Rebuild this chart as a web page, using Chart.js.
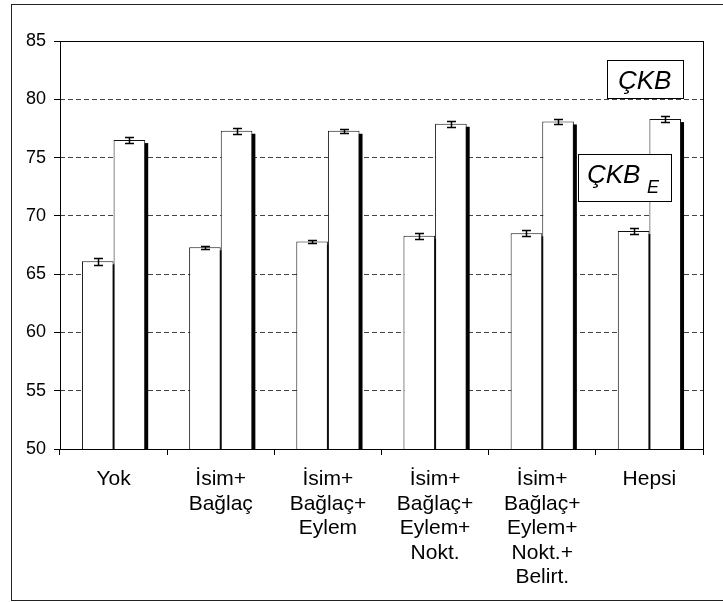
<!DOCTYPE html>
<html>
<head>
<meta charset="utf-8">
<script src="https://cdn.jsdelivr.net/npm/chart.js@4"></script>
<style>
  html, body { margin: 0; padding: 0; background: #fff; }
  #wrap { width: 723px; height: 602px; position: relative; }
</style>
</head>
<body>
<div id="wrap"><canvas id="chart" width="723" height="602"></canvas></div>
<script>
// category labels (multi-line)
var categories = [
  ['Yok'],
  ['İsim+', 'Bağlaç'],
  ['İsim+', 'Bağlaç+', 'Eylem'],
  ['İsim+', 'Bağlaç+', 'Eylem+', 'Nokt.'],
  ['İsim+', 'Bağlaç+', 'Eylem+', 'Nokt.+', 'Belirt.'],
  ['Hepsi']
];
// lower bars (left of each pair)
var ckbE = [66.1, 67.3, 67.8, 68.3, 68.5, 68.7];
var ckbEErr = [0.3, 0.15, 0.15, 0.25, 0.25, 0.25];
// upper bars (right of each pair)
var ckb = [76.5, 77.3, 77.3, 77.9, 78.1, 78.3];
var ckbErr = [0.25, 0.25, 0.15, 0.25, 0.25, 0.25];
var yTicks = [50, 55, 60, 65, 70, 75, 80, 85];

var FONT = 'Liberation Sans, Arial, sans-serif';

// black drop shadow behind every bar (offset right/down)
var shadowPlugin = {
  id: 'shadow',
  beforeDatasetsDraw: function(chart) {
    var ctx = chart.ctx, a = chart.chartArea;
    ctx.save();
    ctx.beginPath();
    ctx.rect(a.left, a.top, a.right - a.left, a.bottom - a.top);
    ctx.clip();
    ctx.fillStyle = '#000';
    chart.data.datasets.forEach(function(ds, i) {
      chart.getDatasetMeta(i).data.forEach(function(bar) {
        var w = bar.width;
        ctx.fillRect(bar.x - w / 2 + 3, bar.y + 3, w, bar.base - bar.y);
      });
    });
    ctx.restore();
  }
};

// error bars, plot frame, text boxes, outer frame
var extrasPlugin = {
  id: 'extras',
  afterDatasetsDraw: function(chart) {
    var ctx = chart.ctx, y = chart.scales.y;
    ctx.save();
    ctx.strokeStyle = '#000';
    ctx.lineWidth = 1.5;
    chart.data.datasets.forEach(function(ds, i) {
      chart.getDatasetMeta(i).data.forEach(function(bar, j) {
        var v = ds.data[j], e = ds.errors[j];
        var yt = Math.round(y.getPixelForValue(v + e)) + 0.5;
        var yb = Math.round(y.getPixelForValue(v - e)) + 0.5;
        var x = Math.round(bar.x) + 0.5;
        ctx.beginPath();
        ctx.moveTo(x, yt); ctx.lineTo(x, yb);
        ctx.moveTo(x - 4.5, yt); ctx.lineTo(x + 4.5, yt);
        ctx.moveTo(x - 4.5, yb); ctx.lineTo(x + 4.5, yb);
        ctx.stroke();
      });
    });
    ctx.restore();
  },
  afterDraw: function(chart) {
    var ctx = chart.ctx, a = chart.chartArea, y = chart.scales.y;
    ctx.save();
    // plot frame
    ctx.strokeStyle = '#000';
    ctx.lineWidth = 1;
    ctx.strokeRect(Math.round(a.left) + 0.5, Math.round(a.top) + 0.5,
      Math.round(a.right - a.left), Math.round(a.bottom - a.top));
    // outer frame
    ctx.strokeStyle = '#222';
    ctx.strokeRect(11.5, 4.5, 740, 596);

    // text boxes
    ctx.fillStyle = '#fff';
    ctx.strokeStyle = '#000';
    var b1x = a.right - 96, b1y = Math.round(y.getPixelForValue(80));
    ctx.fillRect(b1x, b1y - 39, 77, 39);
    ctx.strokeRect(b1x + 0.5, b1y - 38.5, 76, 38);
    var b2x = a.right - 125, b2y = 154;
    ctx.fillRect(b2x, b2y, 94, 48);
    ctx.strokeRect(b2x + 0.5, b2y + 0.5, 93, 47);

    ctx.fillStyle = '#000';
    ctx.textBaseline = 'alphabetic';
    ctx.textAlign = 'left';
    ctx.font = 'italic 26px ' + FONT;
    ctx.fillText('ÇKB', b1x + 11, b1y - 10);
    ctx.fillText('ÇKB', b2x + 9, b2y + 29);
    ctx.font = 'italic 18px ' + FONT;
    ctx.fillText('E', b2x + 69, b2y + 39);
    ctx.restore();
  }
};

var ctx = document.getElementById('chart').getContext('2d');
var chart = new Chart(ctx, {
  type: 'bar',
  data: {
    labels: categories,
    datasets: [{
      data: ckbE,
      errors: ckbEErr,
      backgroundColor: '#fff',
      borderColor: '#111',
      borderWidth: 1,
      categoryPercentage: 0.59,
      barPercentage: 1.0
    }, {
      data: ckb,
      errors: ckbErr,
      backgroundColor: '#fff',
      borderColor: '#111',
      borderWidth: 1,
      categoryPercentage: 0.59,
      barPercentage: 1.0
    }]
  },
  options: {
    responsive: false,
    animation: false,
    layout: { padding: { left: 0, top: 41, right: 20, bottom: 0 } },
    plugins: {
      legend: { display: false },
      tooltip: { enabled: false }
    },
    scales: {
      x: {
        grid: {
          drawOnChartArea: false,
          drawTicks: true,
          tickLength: 6,
          color: '#000',
          offset: true
        },
        border: { display: false },
        ticks: {
          color: '#000',
          font: { family: FONT, size: 21, lineHeight: 1.17 },
          padding: 12,
          maxRotation: 0,
          autoSkip: false
        },
        afterFit: function(s) { s.height = 153; }
      },
      y: {
        min: 50,
        max: 85,
        afterBuildTicks: function(s) {
          s.ticks = yTicks.map(function(v) { return { value: v }; });
        },
        grid: {
          color: '#444',
          lineWidth: 1,
          tickLength: 6,
          tickColor: '#000',
          tickBorderDash: []
        },
        border: { display: false, dash: [5, 3] },
        ticks: {
          color: '#000',
          font: { family: FONT, size: 18 },
          padding: 8
        },
        afterFit: function(s) { s.width = 60; }
      }
    }
  },
  plugins: [shadowPlugin, extrasPlugin]
});
</script>
</body>
</html>
